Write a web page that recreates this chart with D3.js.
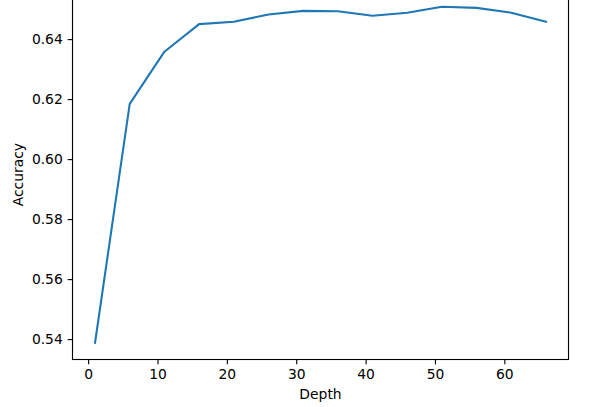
<!DOCTYPE html>
<html>
<head>
<meta charset="utf-8">
<script src="https://cdn.jsdelivr.net/npm/d3@7"></script>
<style>
  body { margin: 0; background: #fff; }
  svg text { font-family: "DejaVu Sans", sans-serif; }
</style>
</head>
<body>
<svg width="613" height="407"></svg>
<script>
// depth vs accuracy
var depths = [1, 6, 11, 16, 21, 26, 31, 36, 41, 46, 51, 56, 61, 66];
var accuracy = [0.5388, 0.6184, 0.6358, 0.6450, 0.6458, 0.6482, 0.6494,
                0.6493, 0.6478, 0.6488, 0.6508, 0.6504, 0.6488, 0.6458];
var xTicks = [0, 10, 20, 30, 40, 50, 60];
var yTicks = [0.54, 0.56, 0.58, 0.60, 0.62, 0.64];

var svg = d3.select("svg");
// plot box (top edge sits just above the picture, as in the reference)
var plotLeft = 72.5, plotRight = 568.5, plotBottom = 359.5, plotTop = plotBottom - 369.6;
var fontSize = 13.89;
var tick = 4.86;

// matplotlib style 5% margins
function padded(vals) {
  var lo = d3.min(vals), hi = d3.max(vals), m = (hi - lo) * 0.05;
  return [lo - m, hi + m];
}

var x = d3.scaleLinear().domain(padded(depths)).range([plotLeft, plotRight]);
var y = d3.scaleLinear().domain(padded(accuracy)).range([plotBottom, plotTop]);

var line = d3.line()
  .x(function (d, i) { return x(depths[i]); })
  .y(function (d) { return y(d); });

svg.append("path")
  .datum(accuracy)
  .attr("d", line)
  .attr("fill", "none")
  .attr("stroke", "#1f77b4")
  .attr("stroke-width", 2.08)
  .attr("stroke-linejoin", "round")
  .attr("stroke-linecap", "square");

var xAxis = svg.append("g")
  .attr("transform", "translate(0," + plotBottom + ")")
  .call(d3.axisBottom(x).tickValues(xTicks).tickSize(tick).tickPadding(tick).tickSizeOuter(0)
        .tickFormat(d3.format("d")));

var yAxis = svg.append("g")
  .attr("transform", "translate(" + plotLeft + ",0)")
  .call(d3.axisLeft(y).tickValues(yTicks).tickSize(tick).tickPadding(tick).tickSizeOuter(0)
        .tickFormat(d3.format(".2f")));

[xAxis, yAxis].forEach(function (g) {
  g.select(".domain").remove();
  g.selectAll(".tick line").attr("stroke", "#000").attr("stroke-width", 1.11);
  g.selectAll(".tick text")
    .attr("fill", "#000")
    .style("font-family", "DejaVu Sans, sans-serif")
    .style("font-size", fontSize + "px");
});

// frame
svg.append("rect")
  .attr("x", plotLeft)
  .attr("y", plotTop)
  .attr("width", plotRight - plotLeft)
  .attr("height", plotBottom - plotTop)
  .attr("fill", "none")
  .attr("stroke", "#000")
  .attr("stroke-width", 1.11);

svg.append("text")
  .attr("x", (plotLeft + plotRight) / 2)
  .attr("y", 399)
  .attr("text-anchor", "middle")
  .style("font-size", fontSize + "px")
  .text("Depth");

svg.append("text")
  .attr("transform", "translate(22.5," + ((plotTop + plotBottom) / 2) + ") rotate(-90)")
  .attr("text-anchor", "middle")
  .style("font-size", fontSize + "px")
  .text("Accuracy");
</script>
</body>
</html>
